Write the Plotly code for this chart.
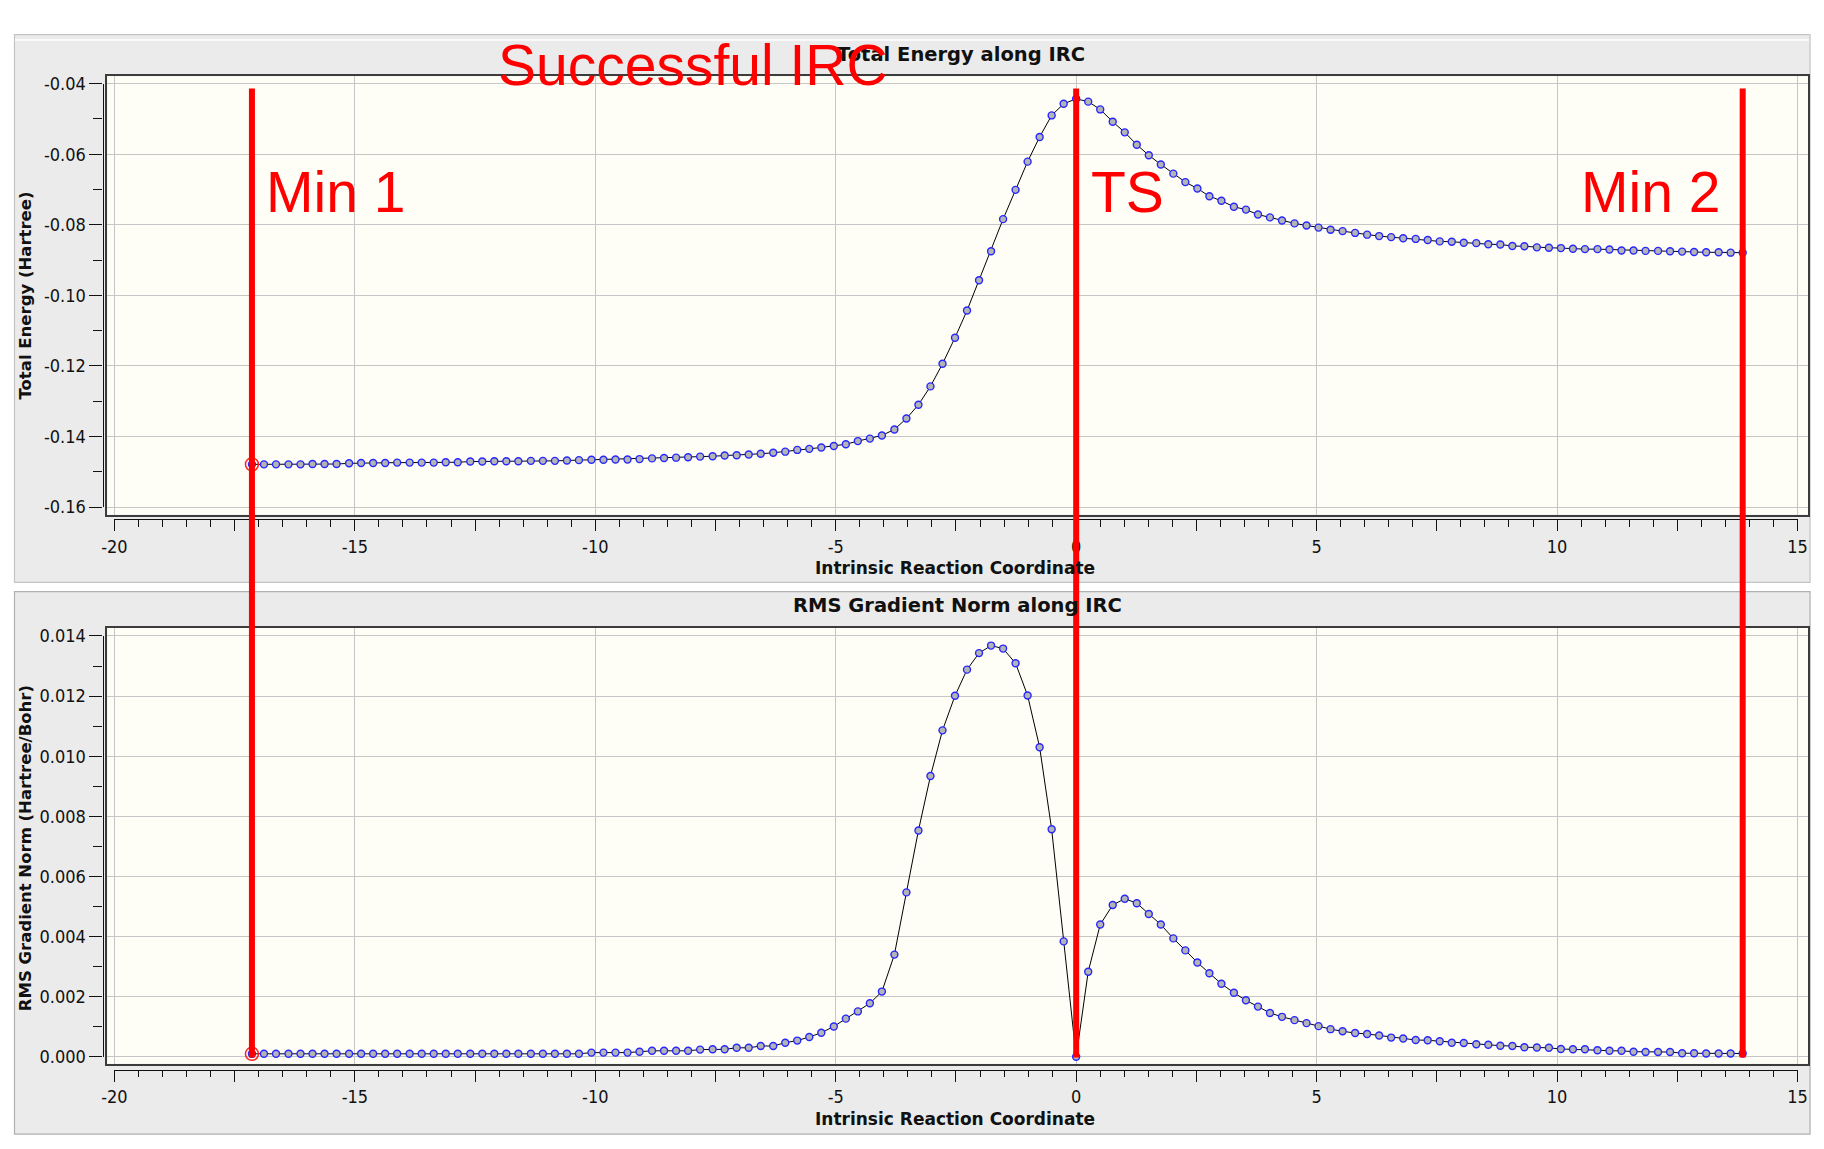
import plotly.graph_objects as go

# ---- data ----
irc_coord = [
    -17.14, -16.89, -16.64, -16.38, -16.13, -15.88, -15.63, -15.38, -15.12, -14.87,
    -14.62, -14.37, -14.12, -13.86, -13.61, -13.36, -13.11, -12.86, -12.60, -12.35,
    -12.10, -11.85, -11.60, -11.34, -11.09, -10.84, -10.59, -10.34, -10.08, -9.83,
    -9.58, -9.33, -9.08, -8.82, -8.57, -8.32, -8.07, -7.82, -7.56, -7.31,
    -7.06, -6.81, -6.56, -6.30, -6.05, -5.80, -5.55, -5.30, -5.04, -4.79,
    -4.54, -4.29, -4.04, -3.78, -3.53, -3.28, -3.03, -2.78, -2.52, -2.27,
    -2.02, -1.77, -1.52, -1.26, -1.01, -0.76, -0.51, -0.26, 0.00,
    0.25, 0.50, 0.76, 1.01, 1.26, 1.51, 1.76, 2.02, 2.27, 2.52,
    2.77, 3.02, 3.28, 3.53, 3.78, 4.03, 4.28, 4.54, 4.79, 5.04,
    5.29, 5.54, 5.80, 6.05, 6.30, 6.55, 6.80, 7.06, 7.31, 7.56,
    7.81, 8.06, 8.32, 8.57, 8.82, 9.07, 9.32, 9.58, 9.83, 10.08,
    10.33, 10.58, 10.84, 11.09, 11.34, 11.59, 11.84, 12.10, 12.35, 12.60,
    12.85, 13.10, 13.36, 13.61, 13.86,
]

total_energy = [
    -0.1479, -0.1479, -0.1479, -0.1479, -0.1479, -0.1478, -0.1478, -0.1478,
    -0.1476, -0.1475, -0.1475, -0.1475, -0.1474, -0.1474, -0.1474, -0.1474, -0.1473, -0.1473,
    -0.1471, -0.1471, -0.1470, -0.1470, -0.1470, -0.1469, -0.1469, -0.1469, -0.1468, -0.1467,
    -0.1466, -0.1466, -0.1465, -0.1465, -0.1464, -0.1462, -0.1461, -0.1460, -0.1459, -0.1457,
    -0.1456, -0.1454, -0.1453, -0.1451, -0.1449, -0.1446,
    -0.1443, -0.1438, -0.1435, -0.1431, -0.1427, -0.1422, -0.1413, -0.1406, -0.1397, -0.1380,
    -0.1349, -0.1310, -0.1258, -0.1194, -0.1120, -0.1043, -0.0957, -0.0875, -0.0784, -0.0701,
    -0.0621, -0.0551, -0.0490, -0.0457, -0.0443,
    -0.0451, -0.0473, -0.0508, -0.0538, -0.0573, -0.0603, -0.0629, -0.0655, -0.0679, -0.0697,
    -0.0719, -0.0732, -0.0749, -0.0757, -0.0771, -0.0779, -0.0788, -0.0796, -0.0802, -0.0808,
    -0.0814, -0.0818, -0.0823, -0.0828, -0.0832, -0.0835, -0.0838, -0.0840, -0.0843, -0.0847,
    -0.0848, -0.0851, -0.0852, -0.0855, -0.0856, -0.0860, -0.0861, -0.0864, -0.0865, -0.0866,
    -0.0868, -0.0869, -0.0869, -0.0870, -0.0873, -0.0873, -0.0874, -0.0874, -0.0875, -0.0876,
    -0.0877, -0.0878, -0.0878, -0.0879, -0.0879,
]

rms_gradient = [
    0.00010, 0.00010, 0.00010, 0.00010, 0.00010, 0.00010, 0.00010, 0.00010, 0.00010, 0.00010,
    0.00010, 0.00010, 0.00010, 0.00010, 0.00010, 0.00010, 0.00010, 0.00010, 0.00010, 0.00010,
    0.00010, 0.00010, 0.00010, 0.00010, 0.00010, 0.00010, 0.00010, 0.00010,
    0.00014, 0.00014, 0.00014, 0.00014, 0.00017, 0.00020, 0.00020, 0.00020, 0.00020,
    0.00024, 0.00025, 0.00025, 0.00030, 0.00030, 0.00036, 0.00036,
    0.00047, 0.00054, 0.00066, 0.00080, 0.00101, 0.00127, 0.00151, 0.00178, 0.00217, 0.00340,
    0.00547, 0.00753, 0.00934, 0.01086, 0.01201, 0.01288, 0.01343, 0.01368, 0.01358, 0.01309,
    0.01202, 0.01030, 0.00757, 0.00384, 0.00000,
    0.00283, 0.00440, 0.00505, 0.00526, 0.00511, 0.00475, 0.00440, 0.00394, 0.00354, 0.00314,
    0.00278, 0.00243, 0.00213, 0.00188, 0.00167, 0.00146, 0.00133, 0.00122, 0.00112, 0.00102,
    0.00092, 0.00085, 0.00079, 0.00076, 0.00071, 0.00064, 0.00061, 0.00056, 0.00055, 0.00052,
    0.00047, 0.00046, 0.00042, 0.00040, 0.00037, 0.00036, 0.00032, 0.00031, 0.00030, 0.00026,
    0.00025, 0.00025, 0.00022, 0.00020, 0.00020, 0.00017, 0.00016, 0.00016, 0.00016, 0.00012,
    0.00012, 0.00011, 0.00011, 0.00011, 0.00011,
]

irc_ticks = [-20, -17.5, -15, -12.5, -10, -7.5, -5, -2.5, 0, 2.5, 5, 7.5, 10, 12.5, 15]
irc_tick_text = ["-20", "", "-15", "", "-10", "", "-5", "", "0", "", "5", "", "10", "", "15"]
energy_ticks = [-0.16, -0.14, -0.12, -0.10, -0.08, -0.06, -0.04]
energy_tick_text = ["-0.16", "-0.14", "-0.12", "-0.10", "-0.08", "-0.06", "-0.04"]
gradient_ticks = [0.000, 0.002, 0.004, 0.006, 0.008, 0.010, 0.012, 0.014]
gradient_tick_text = ["0.000", "0.002", "0.004", "0.006", "0.008", "0.010", "0.012", "0.014"]

ts_index = irc_coord.index(0.00)
assert len(irc_coord) == len(total_energy) == len(rms_gradient)

# ---- geometry: positions in pixels of the 1824x1149 page ----
W, H = 1824, 1149


def px(p):
    return p / W


def py(p):
    return 1 - p / H


TICK_FONT = dict(family="Liberation Sans Narrow, DejaVu Sans Condensed, Liberation Sans", size=18, color="#111111")
BOLD = "DejaVu Sans"
RED_FONT = "Liberation Sans, Arial"
GRID = "#c6c6c6"
FRAME = "#3c3c3c"

fig = go.Figure()

# data traces on the framed (grid) axes
for xa, ya, yvals in [("x", "y", total_energy), ("x2", "y2", rms_gradient)]:
    fig.add_trace(go.Scatter(
        x=irc_coord, y=yvals, xaxis=xa, yaxis=ya, mode="lines+markers",
        line=dict(color="black", width=1),
        marker=dict(symbol="circle", size=7, color="#b4b4b4",
                    line=dict(color="#2626ff", width=1.4)),
        hoverinfo="skip", showlegend=False,
    ))
    # highlighted current point (Min 1)
    fig.add_trace(go.Scatter(
        x=[irc_coord[0]], y=[yvals[0]], xaxis=xa, yaxis=ya, mode="markers",
        marker=dict(symbol="circle-open", size=13, color="#ff2020", line=dict(width=1.5)),
        hoverinfo="skip", showlegend=False,
    ))

# invisible traces so the detached tick axes get drawn
for xa, ya, yvals in [("x3", "y3", total_energy), ("x4", "y4", rms_gradient)]:
    fig.add_trace(go.Scatter(
        x=irc_coord, y=yvals, xaxis=xa, yaxis=ya, mode="markers",
        marker=dict(opacity=0), hoverinfo="skip", showlegend=False,
    ))

FRAME_L, FRAME_R = 95.5, 1818.3
X_LO, X_HI = 102.7, 1807.3           # pixel of x = -20 and x = 15
unit = (X_HI - X_LO) / 35.0
x_range = [-20 - (X_LO - FRAME_L) / unit, 15 + (FRAME_R - X_HI) / unit]

frame_axis = dict(showline=True, mirror=True, linecolor=FRAME, linewidth=1.6,
                  showgrid=True, gridcolor=GRID, gridwidth=1.3, zeroline=False,
                  ticks="", showticklabels=False)

tick_x = dict(range=[-20, 15], anchor="free", side="bottom", showgrid=False, zeroline=False,
              showline=True, linecolor="#111", linewidth=1.3,
              ticks="outside", ticklen=11, tickwidth=1.3, tickcolor="#111",
              tickmode="array", tickvals=irc_ticks, ticktext=irc_tick_text,
              tickfont=TICK_FONT, ticklabeloverflow="allow",
              minor=dict(dtick=0.5, tick0=0, ticks="outside", ticklen=6.5,
                         tickwidth=1.2, tickcolor="#111", showgrid=False),
              domain=[px(X_LO), px(X_HI)])

tick_y = dict(anchor="free", side="left", position=px(90.7), showgrid=False, zeroline=False,
              showline=True, linecolor="#111", linewidth=1.3,
              ticks="outside", ticklen=13, tickwidth=1.3, tickcolor="#111",
              tickmode="array", tickfont=TICK_FONT, ticklabeloverflow="allow")

fig.update_layout(
    width=W, height=H,
    margin=dict(l=0, r=0, t=0, b=0),
    paper_bgcolor="white",
    plot_bgcolor="rgba(0,0,0,0)",
    xaxis=dict(frame_axis, domain=[px(FRAME_L), px(FRAME_R)], range=x_range,
               anchor="y", dtick=5, tick0=0),
    yaxis=dict(frame_axis, domain=[py(513), py(66.5)], range=[-0.16214, -0.03791],
               anchor="x", dtick=0.02, tick0=0),
    xaxis2=dict(frame_axis, domain=[px(FRAME_L), px(FRAME_R)], range=x_range,
                anchor="y2", dtick=5, tick0=0),
    yaxis2=dict(frame_axis, domain=[py(1072.3), py(628)], range=[-0.000229, 0.014281],
                anchor="x2", dtick=0.002, tick0=0),
    xaxis3=dict(tick_x, position=py(517.5)),
    yaxis3=dict(tick_y, domain=[py(505.3), py(74.0)], range=[-0.16, -0.04],
                tickvals=energy_ticks, ticktext=energy_tick_text,
                minor=dict(dtick=0.01, tick0=0, ticks="outside", ticklen=9.5,
                           tickwidth=1.2, tickcolor="#111", showgrid=False)),
    xaxis4=dict(tick_x, position=py(1078.3)),
    yaxis4=dict(tick_y, domain=[py(1065.3), py(636.6)], range=[0, 0.014],
                tickvals=gradient_ticks, ticktext=gradient_tick_text,
                minor=dict(dtick=0.001, tick0=0, ticks="outside", ticklen=9.5,
                           tickwidth=1.2, tickcolor="#111", showgrid=False)),
)

# panel backgrounds and plot areas
shapes = [
    dict(type="rect", xref="paper", yref="paper", x0=px(1.5), x1=px(1820), y0=py(582), y1=py(24),
         fillcolor="#ebebeb", line=dict(color="#c4c4c4", width=1.2), layer="below"),
    dict(type="rect", xref="paper", yref="paper", x0=px(1.5), x1=px(1820), y0=py(1144), y1=py(591.5),
         fillcolor="#ebebeb", line=dict(color="#b0b0b0", width=1.2), layer="below"),
    dict(type="line", xref="paper", yref="paper", x0=px(2), x1=px(1819), y0=py(29.5), y1=py(29.5),
         line=dict(color="white", width=1.5), layer="below"),
    dict(type="rect", xref="paper", yref="paper", x0=px(FRAME_L), x1=px(FRAME_R), y0=py(513), y1=py(66.5),
         fillcolor="#fefef6", line=dict(width=0), layer="below"),
    dict(type="rect", xref="paper", yref="paper", x0=px(FRAME_L), x1=px(FRAME_R), y0=py(1072.3), y1=py(628),
         fillcolor="#fefef6", line=dict(width=0), layer="below"),
]

# red marker lines at Min 1, TS and Min 2
for idx in [0, ts_index, len(irc_coord) - 1]:
    shapes.append(dict(type="line", xref="x", yref="paper",
                       x0=irc_coord[idx], x1=irc_coord[idx], y0=py(1066), y1=py(79),
                       line=dict(color="#ff0000", width=6), layer="above"))
fig.update_layout(shapes=shapes)

annotations = [
    dict(text="<b>Total Energy along IRC</b>", x=px(960), y=py(44),
         font=dict(family=BOLD, size=19.5, color="#111")),
    dict(text="<b>RMS Gradient Norm along IRC</b>", x=px(957), y=py(606),
         font=dict(family=BOLD, size=19.5, color="#111")),
    dict(text="<b>Intrinsic Reaction Coordinate</b>", x=px(954), y=py(567.5),
         font=dict(family=BOLD, size=17, color="#111")),
    dict(text="<b>Intrinsic Reaction Coordinate</b>", x=px(954), y=py(1128.5),
         font=dict(family=BOLD, size=17, color="#111")),
    dict(text="<b>Total Energy (Hartree)</b>", x=px(13), y=py(290), textangle=-90,
         font=dict(family=BOLD, size=16.5, color="#111")),
    dict(text="<b>RMS Gradient Norm (Hartree/Bohr)</b>", x=px(13), y=py(853), textangle=-90,
         font=dict(family=BOLD, size=16.5, color="#111")),
    dict(text="Successful IRC", x=px(689), y=py(55.5),
         font=dict(family=RED_FONT, size=57, color="#ff0000")),
    dict(text="Min 1", x=px(254), y=py(184), xanchor="left",
         font=dict(family=RED_FONT, size=57, color="#ff0000")),
    dict(text="TS", x=px(1090), y=py(184), xanchor="left",
         font=dict(family=RED_FONT, size=57, color="#ff0000")),
    dict(text="Min 2", x=px(1586), y=py(184), xanchor="left",
         font=dict(family=RED_FONT, size=57, color="#ff0000")),
]
for a in annotations:
    a.setdefault("xanchor", "center")
    a.update(xref="paper", yref="paper", yanchor="middle", showarrow=False)
fig.update_layout(annotations=annotations)

# page body margin removed so the figure fills the 1824x1149 window exactly
fig.write_html("out.html", config={"displayModeBar": False},
               post_script="document.body.style.margin='0px';")
